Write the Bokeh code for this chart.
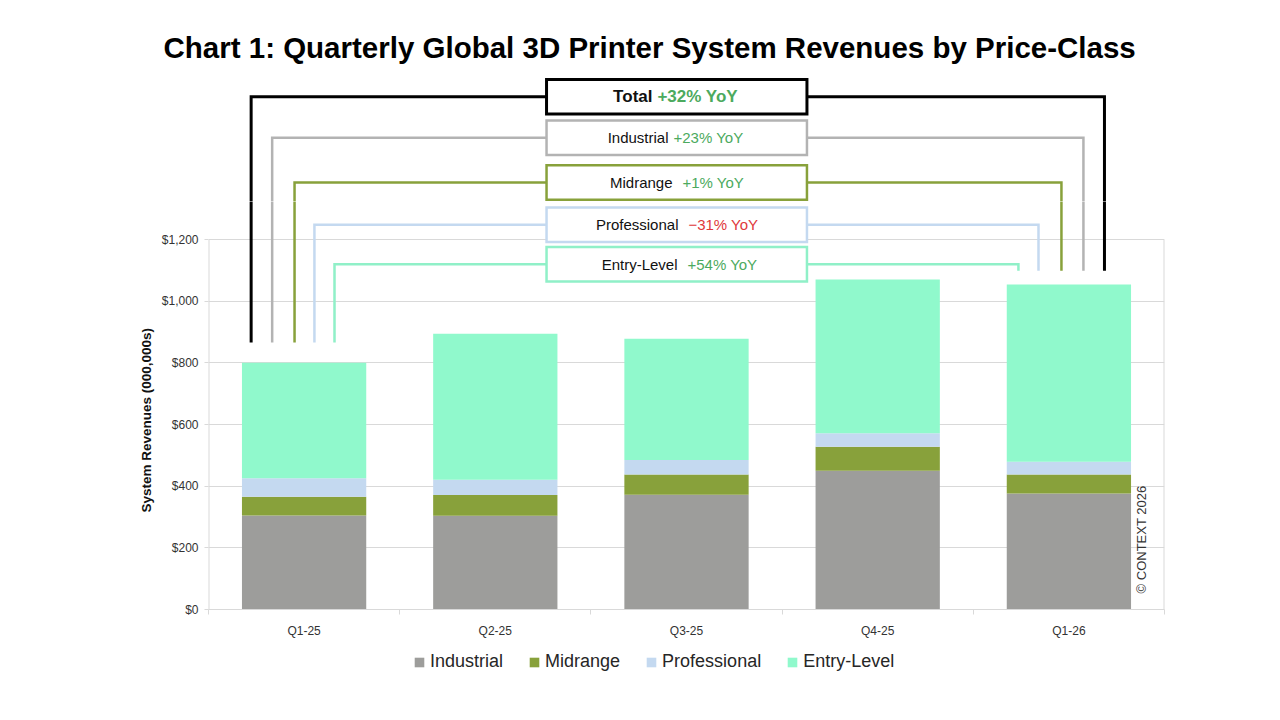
import math
from bokeh.plotting import figure
from bokeh.layouts import column
from bokeh.models import (Range1d, FixedTicker, NumeralTickFormatter, ColumnDataSource,
                          Legend, LegendItem, Title)
from bokeh.core.properties import value
from bokeh.embed import file_html
from bokeh.resources import INLINE

# ---------------- data ----------------
quarters = ["Q1-25", "Q2-25", "Q3-25", "Q4-25", "Q1-26"]
industrial = [305, 304, 372, 450, 376]
midrange = [61, 67, 66, 78, 62]
professional = [60, 50, 47, 44, 41]
entry_level = [374, 473, 393, 498, 575]
series_names = ["Industrial", "Midrange", "Professional", "Entry-Level"]
y_ticks = [0, 200, 400, 600, 800, 1000, 1200]

yoy_names = ["Total", "Industrial", "Midrange", "Professional", "Entry-Level"]
yoy_values = ["+32% YoY", "+23% YoY", "+1% YoY", "\u221231% YoY", "+54% YoY"]

title_text = "Chart 1: Quarterly Global 3D Printer System Revenues by Price-Class"
y_label = "System Revenues (000,000s)"
copyright_text = "\u00a9 CONTEXT 2026"

# ---------------- styles / layout ----------------
bar_colors = ["#9d9d9b", "#88a13b", "#c4d9f0", "#90f9cc"]
conn_colors = ["#000000", "#b3b3b3", "#88a13b", "#c4d9f0", "#90f0c8"]
conn_widths = [3, 2.5, 2.5, 2.5, 2.5]
pct_colors = ["#4caa5e", "#4caa5e", "#4caa5e", "#e0393b", "#4caa5e"]
FONT = "Liberation Sans"
AXIS_GRAY = "#d9d9d9"
LABEL_COLOR = "#333333"

W = 1280
LEFT, RIGHT = 208, 116            # plot-area margins (px)
TITLE_BAND = 70                   # px reserved for the title
TOP_H = 201                       # height of the top strip (title + upper callouts)
PLOT_BOTTOM = 609                 # pixel row of the $0 baseline
PX_PER_UNIT = 370 / 1200          # vertical scale: px per $ (000,000s)
split_value = (PLOT_BOTTOM - TOP_H) / PX_PER_UNIT
top_value = (PLOT_BOTTOM - TITLE_BAND) / PX_PER_UNIT

# annotation layout (data units)
levels = [1663, 1530, 1385, 1248, 1120]
left_x = [0.223, 0.333, 0.450, 0.554, 0.659]
right_x = [4.686, 4.576, 4.461, 4.341, 4.236]
left_bottom = 866
right_bottom = 1099
box_left, box_right, box_half = 1.768, 3.130, 56
name_end = [2.322, 2.406, 2.427, 2.458, 2.453]
pct_start = [2.348, 2.432, 2.479, 2.510, 2.505]


def add_callouts(fig, rows):
    cx = [[left_x[i], left_x[i], right_x[i], right_x[i]] for i in range(5)]
    cy = [[left_bottom, levels[i], levels[i], right_bottom] for i in range(5)]
    fig.multi_line(xs=cx, ys=cy, line_color=conn_colors, line_width=conn_widths,
                   line_join="miter")
    fig.quad(left=[box_left] * len(rows), right=[box_right] * len(rows),
             top=[levels[i] + box_half for i in rows], bottom=[levels[i] - box_half for i in rows],
             fill_color="white", line_color=[conn_colors[i] for i in rows],
             line_width=[conn_widths[i] for i in rows], line_join="miter")
    for i in rows:
        size = "17px" if i == 0 else "15px"
        style = "bold" if i == 0 else "normal"
        fig.text(x=[name_end[i]], y=[levels[i]], text=[yoy_names[i]], text_align="right",
                 text_baseline="middle", text_font=value(FONT), text_font_size=size,
                 text_font_style=style, text_color="#111111")
        fig.text(x=[pct_start[i]], y=[levels[i]], text=[yoy_values[i]], text_align="left",
                 text_baseline="middle", text_font=value(FONT), text_font_size=size,
                 text_font_style=style, text_color=pct_colors[i])


# ---------------- top strip: title + callout boxes ----------------
top = figure(width=W, height=TOP_H, output_backend="svg", toolbar_location=None, title=None,
             x_range=Range1d(0, 5), y_range=Range1d(split_value, top_value),
             min_border_left=LEFT, min_border_right=RIGHT, min_border_top=TITLE_BAND,
             min_border_bottom=0, x_axis_type=None, y_axis_type=None)
top.outline_line_color = None
top.grid.visible = False
top.add_layout(Title(text=title_text, align="left", offset=-45, standoff=14,
                     text_font=FONT, text_font_size="29.5px", text_font_style="bold",
                     text_color="#000000"), "above")
add_callouts(top, [0, 1, 2])

# ---------------- main bar chart ----------------
p = figure(width=W, height=PLOT_BOTTOM - TOP_H + 31, output_backend="svg",
           toolbar_location=None, title=None,
           x_range=Range1d(0, 5), y_range=Range1d(0, split_value),
           min_border_left=LEFT, min_border_right=RIGHT, min_border_top=0, min_border_bottom=31)
p.outline_line_color = None

xs = [i + 0.5 for i in range(len(quarters))]
src = ColumnDataSource({"x": xs, "Industrial": industrial, "Midrange": midrange,
                        "Professional": professional, "Entry-Level": entry_level})
p.vbar_stack(series_names, x="x", width=0.65, color=bar_colors, line_color=None, source=src)

# plot-area left/right borders
p.segment(x0=[0, 5], y0=[0, 0], x1=[0, 5], y1=[y_ticks[-1], y_ticks[-1]],
          line_color=AXIS_GRAY, line_width=2)

add_callouts(p, [3, 4])

p.text(x=[4.880], y=[227], text=[copyright_text], text_align="center", text_baseline="middle",
       angle=math.pi / 2, text_font=value(FONT), text_font_size="13px", text_color=LABEL_COLOR)

p.yaxis.ticker = FixedTicker(ticks=y_ticks)
p.yaxis.formatter = NumeralTickFormatter(format="$0,0")
p.yaxis.axis_line_color = None
p.yaxis.major_tick_line_color = AXIS_GRAY
p.yaxis.major_tick_in = 0
p.yaxis.major_tick_out = 4
p.yaxis.minor_tick_line_color = None
p.yaxis.major_label_standoff = 6
p.yaxis.major_label_text_font = FONT
p.yaxis.major_label_text_font_size = "12px"
p.yaxis.major_label_text_color = LABEL_COLOR

# y-axis title, placed alongside the $0-$1,200 plot area
p.add_layout(Title(text=y_label, align="left", offset=97, standoff=10,
                   text_font=FONT, text_font_size="13.5px", text_font_style="bold",
                   text_color="#111111"), "left")

p.xaxis.ticker = FixedTicker(ticks=xs, minor_ticks=list(range(len(quarters) + 1)))
p.xaxis.major_label_overrides = {x: q for x, q in zip(xs, quarters)}
p.xaxis.axis_line_color = AXIS_GRAY
p.xaxis.major_tick_line_color = None
p.xaxis.minor_tick_line_color = AXIS_GRAY
p.xaxis.minor_tick_in = 0
p.xaxis.minor_tick_out = 5
p.xaxis.major_label_standoff = 8
p.xaxis.major_label_text_font = FONT
p.xaxis.major_label_text_font_size = "12px"
p.xaxis.major_label_text_color = LABEL_COLOR

p.xgrid.visible = False
p.ygrid.ticker = FixedTicker(ticks=y_ticks)
p.ygrid.grid_line_color = AXIS_GRAY
p.ygrid.grid_line_width = 1

# ---------------- legend strip ----------------
leg = figure(width=W, height=720 - (PLOT_BOTTOM + 31), output_backend="svg",
             toolbar_location=None, title=None, x_range=Range1d(0, 1), y_range=Range1d(0, 1),
             min_border_left=LEFT, min_border_right=RIGHT, min_border_top=0, min_border_bottom=0,
             x_axis_type=None, y_axis_type=None)
leg.outline_line_color = None
leg.grid.visible = False
# off-screen proxy renderers that only supply the legend swatches
proxy = ColumnDataSource(dict(x=[-5.0], top=[-5.0]))
proxies = [leg.vbar(x="x", top="top", width=0.1, fill_color=c, line_color=None, source=proxy)
           for c in bar_colors]
legend = Legend(items=[LegendItem(label=n, renderers=[r]) for n, r in zip(series_names, proxies)],
                orientation="horizontal", location=(205, 48),
                label_text_font=FONT, label_text_font_size="18px", label_text_color="#262626",
                glyph_width=12, glyph_height=12, label_standoff=5, spacing=25,
                border_line_color=None, background_fill_alpha=0, padding=2, margin=0)
leg.add_layout(legend, "center")

layout = column(top, p, leg, spacing=0)
open("out.html", "w").write(file_html(layout, INLINE))
